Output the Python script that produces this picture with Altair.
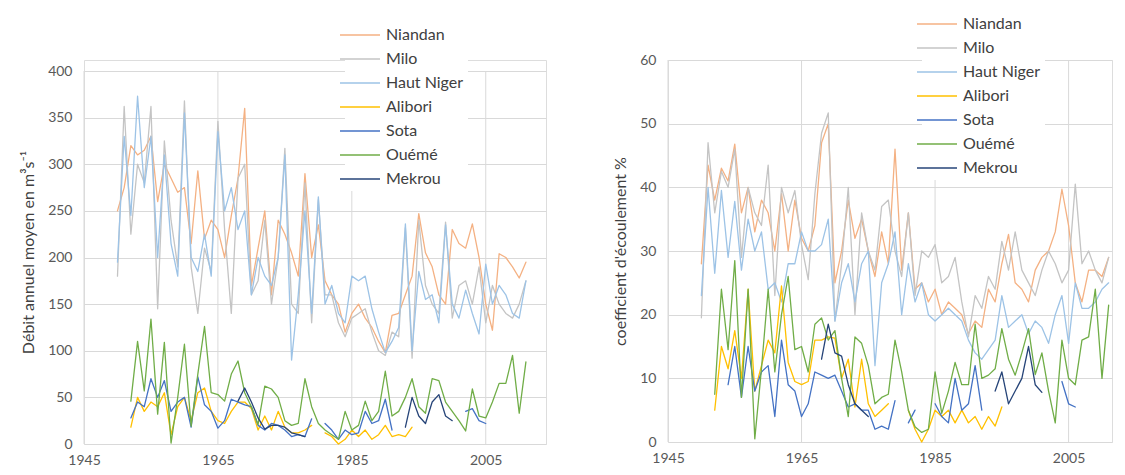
import altair as alt
import pandas as pd

RIVERS = ["Niandan", "Milo", "Haut Niger", "Alibori", "Sota", "Ouémé", "Mekrou"]
COLORS = ["#F4B183", "#C4C4C4", "#9DC3E6", "#FFC000", "#4472C4", "#70AD47", "#264478"]
WIDTHS = [1.3, 1.3, 1.3, 2.2, 2.2, 2.2, 2.2]

X_TICKS = [1945, 1965, 1985, 2005]
Q_TICKS = [0, 50, 100, 150, 200, 250, 300, 350, 400]
C_TICKS = [0, 10, 20, 30, 40, 50, 60]

Q_TITLE = "Débit annuel moyen en m³s⁻¹"
C_TITLE = "coefficient d'écoulement  %"

# ---------- Débit annuel moyen (m3/s) ----------
NIANDAN_Q_START = 1950
NIANDAN_Q = [250, 275, 320, 310, 315, 330, 260, 300, 285, 270,
             275, 215, 293, 220, 240, 230, 200, 245, 285, 360,
             170, 210, 250, 160, 240, 225, 205, 180, 290, 200,
             235, 175, 160, 150, 120, 140, 150, 135, 125, 110,
             98, 138, 140, 160, 180, 247, 205, 190, 160, 150,
             230, 215, 210, 236, 200, 150, 122, 204, 200, 190,
             178, 195]
MILO_Q_START = 1950
MILO_Q = [180, 362, 225, 300, 280, 362, 145, 325, 240, 190,
          368, 190, 140, 210, 185, 346, 230, 140, 285, 300,
          160, 175, 240, 150, 200, 317, 150, 140, 280, 130,
          262, 160, 160, 130, 115, 135, 140, 145, 120, 100,
          95, 120, 115, 232, 92, 240, 170, 150, 140, 238,
          135, 170, 175, 150, 190, 130, 170, 150, 140, 135,
          150, 175]
HN_Q_START = 1950
HN_Q = [195, 330, 245, 373, 275, 330, 200, 310, 215, 180,
        355, 200, 185, 225, 180, 335, 250, 275, 230, 250,
        160, 200, 180, 170, 200, 310, 90, 160, 250, 140,
        265, 150, 170, 140, 130, 180, 175, 180, 145, 120,
        98, 110, 125, 236, 100, 185, 155, 160, 130, 235,
        150, 135, 165, 140, 118, 193, 150, 170, 160, 140,
        135, 175]
ALIBORI_Q_STARTS = [1952, 1981]
ALIBORI_Q = [[18, 50, 35, 45, 40, 55, 10, 40, 50, 25,
              55, 60, 35, 25, 22, 35, 45, 45, 38, 15,
              30, 15, 35, 18, 12, 12, 15, 20],
             [12, 8, 0, 5, 15, 8, 15, 5, 10, 20, 8, 10, 8, 18]]
SOTA_Q_STARTS = [1952, 1981, 2002]
SOTA_Q = [[28, 45, 40, 70, 50, 68, 35, 45, 50, 18,
           72, 42, 35, 17, 25, 48, 45, 42, 40, 20,
           15, 22, 20, 15, 8, 10, 8, 27],
          [22, 15, 5, 15, 10, 12, 35, 22, 25, 48, 15],
          [35, 38, 25, 22]]
OUEME_Q_START = 1952
OUEME_Q = [46, 110, 57, 134, 32, 109, 1, 50, 107, 19,
           75, 126, 55, 53, 46, 75, 89, 55, 40, 21,
           62, 59, 50, 25, 20, 22, 70, 40, 22, 15,
           10, 5, 35, 15, 20, 46, 25, 35, 78, 30,
           35, 50, 70, 40, 33, 70, 68, 45, 35, 25,
           14, 59, 30, 28, 45, 65, 65, 95, 33, 88]
MEKROU_Q_STARTS = [1968, 1993]
MEKROU_Q = [[46, 60, 45, 28, 16, 20, 20, 18, 12, 10, 8],
            [18, 50, 30, 22, 45, 53, 30, 25]]

# ---------- Coefficient d'écoulement (%) ----------
NIANDAN_C_START = 1950
NIANDAN_C = [28, 43.5, 38, 43, 41, 46.8, 36, 40, 33, 38,
             36, 30, 39, 30, 38, 32, 30, 34, 47, 50,
             25, 30, 38, 32, 35, 30, 26, 33, 28, 46,
             27, 36, 24, 25, 22, 24, 20, 22, 21, 20,
             17, 19, 18, 24, 22, 28, 32.6, 25, 24, 22,
             27, 29, 30, 33, 39.7, 34, 25, 22, 27, 27,
             26, 29]
MILO_C_START = 1950
MILO_C = [19.5, 47, 36, 42.5, 40, 46, 29, 40, 36, 34,
          43.5, 23, 40, 36, 39.5, 31, 25.5, 39, 48.5, 51.7,
          19, 28, 40, 20, 36, 30, 27, 37, 38, 30,
          26, 36, 23, 30, 29, 31, 25, 26, 29, 22,
          16.5, 23, 21, 26, 24, 31.5, 27, 33, 27, 25,
          23, 27, 30, 28, 25, 27, 40.5, 28, 30, 27,
          25, 29]
HN_C_START = 1950
HN_C = [23, 40, 26.5, 39.5, 29, 37.8, 27, 35, 30, 33,
        24, 25, 22, 28, 28, 33, 30, 30, 31, 35,
        19, 25, 28, 22, 28, 30, 12, 25, 28, 33,
        20, 28, 22, 25, 20, 19, 20, 21, 20, 19,
        16, 14, 13, 14.5, 16, 23, 18, 19, 20, 17,
        19, 18, 15.5, 20, 23, 15.5, 25, 21, 21, 22,
        24, 25]
ALIBORI_C_STARTS = [1952, 1981]
ALIBORI_C = [[5, 15, 11.5, 17.5, 10, 24, 8, 12, 16, 14,
              24.5, 12.5, 9.5, 9, 9.5, 16, 16, 16.5, 16.3, 10,
              13, 5.5, 13, 6, 4, 5, 6],
             [5, 2, 0, 2, 5, 4, 5, 3, 5, 3, 4, 2, 4, 2.5, 5.5]]
SOTA_C_STARTS = [1954, 1981, 1985, 2004]
SOTA_C = [[9, 15, 7, 15, 8, 11, 12, 4, 16, 9,
           8, 4, 6, 11, 10.5, 10, 10.5, 8, 5.5, 6,
           5, 5, 2, 2.5, 2, 6.5],
          [3, 5],
          [6, 4, 3, 10, 5, 6, 12, 5],
          [9.5, 6, 5.5]]
OUEME_C_START = 1952
OUEME_C = [7.5, 24, 14.5, 28.5, 7, 24, 0.5, 11.5, 24, 11,
           20, 26, 14.5, 15, 11, 18.5, 19.5, 16, 17.5, 10,
           4, 16.5, 15.5, 12, 6, 7, 7.5, 16, 11, 5,
           2.4, 1.5, 2, 11, 4.5, 8, 12.5, 9, 9, 18.5,
           10, 10.5, 11.5, 17.8, 13, 10.5, 14, 17.8, 10.6, 14,
           8, 3, 16, 10, 9, 16, 16.5, 24, 10, 21.5]
MEKROU_C_STARTS = [1968, 1994]
MEKROU_C = [[13, 18.5, 14, 13.5, 9, 6, 5, 4],
            [8, 11, 6, 8, 10, 15, 9, 7.8]]


def build(series):
    rows = []
    for river in RIVERS:
        for k, (start, vals) in enumerate(series[river]):
            for i, v in enumerate(vals):
                rows.append({"river": river, "seg": f"{river}-{k}",
                             "year": start + i, "value": v})
    return pd.DataFrame(rows)


df_q = build({
    "Niandan": [(NIANDAN_Q_START, NIANDAN_Q)],
    "Milo": [(MILO_Q_START, MILO_Q)],
    "Haut Niger": [(HN_Q_START, HN_Q)],
    "Alibori": list(zip(ALIBORI_Q_STARTS, ALIBORI_Q)),
    "Sota": list(zip(SOTA_Q_STARTS, SOTA_Q)),
    "Ouémé": [(OUEME_Q_START, OUEME_Q)],
    "Mekrou": list(zip(MEKROU_Q_STARTS, MEKROU_Q)),
})
df_c = build({
    "Niandan": [(NIANDAN_C_START, NIANDAN_C)],
    "Milo": [(MILO_C_START, MILO_C)],
    "Haut Niger": [(HN_C_START, HN_C)],
    "Alibori": list(zip(ALIBORI_C_STARTS, ALIBORI_C)),
    "Sota": list(zip(SOTA_C_STARTS, SOTA_C)),
    "Ouémé": [(OUEME_C_START, OUEME_C)],
    "Mekrou": list(zip(MEKROU_C_STARTS, MEKROU_C)),
})
df_xgrid = pd.DataFrame({"year": X_TICKS})


def make_legend(x, y):
    return alt.Legend(orient="none", legendX=x, legendY=y, title=None,
                      symbolType="M-2,0H2", symbolSize=400, symbolStrokeWidth=2,
                      labelOffset=15, rowPadding=5, labelFontSize=16,
                      labelColor="#404040", labelFont="Lato",
                      fillColor="white", padding=4)


def panel(df, ytitle, ydomain, yticks, xmax, width, height, lx, ly):
    lg = make_legend(lx, ly)
    xscale = alt.Scale(domain=[1945, xmax], nice=False, zero=False)
    yscale = alt.Scale(domain=ydomain, nice=False)
    vgrid = alt.Chart(df_xgrid).mark_rule(color="#D9D9D9", strokeWidth=1).encode(
        x=alt.X("year:Q", scale=xscale),
        y=alt.datum(yticks[0]),
        y2=alt.datum(yticks[-1]),
    )
    lines = alt.Chart(df).mark_line(strokeJoin="round", strokeCap="round").encode(
        x=alt.X("year:Q", scale=xscale,
                axis=alt.Axis(values=X_TICKS, format="d", title=None, ticks=False,
                              domain=False, grid=False,
                              labelFlush=False, labelPadding=9, labelFontSize=14,
                              labelColor="#595959", labelFont="Lato")),
        y=alt.Y("value:Q", scale=yscale,
                axis=alt.Axis(values=yticks, title=ytitle, ticks=False, domain=False,
                              grid=True, gridColor="#D9D9D9", labelPadding=12,
                              labelFontSize=14, labelColor="#595959", labelFont="Lato",
                              titleFont="Lato", titleFontSize=16, titleFontWeight="normal",
                              titleColor="#404040", titlePadding=11)),
        color=alt.Color("river:N", scale=alt.Scale(domain=RIVERS, range=COLORS), legend=lg),
        strokeWidth=alt.StrokeWidth("river:N", scale=alt.Scale(domain=RIVERS, range=WIDTHS),
                                    legend=lg),
        detail="seg:N",
    )
    return alt.layer(vgrid, lines).properties(width=width, height=height)


# left plot area is taller (its top sits level with the right one); the 400 line stays at its place
left = panel(df_q, Q_TITLE, [0, 411.8], Q_TICKS, 2014, 462, 384, 261, -40)
right = panel(df_c, C_TITLE, [0, 60], C_TICKS, 2011.5, 444, 382, 254, -51)

chart = alt.hconcat(left, right, spacing=65).resolve_legend(
    color="independent", strokeWidth="independent"
).configure_view(stroke=None).configure(font="Lato").properties(
    padding={"left": 12, "top": 0, "right": 0, "bottom": 0},
    background="white",
)

chart.save("out.html", embed_options={"renderer": "svg", "actions": False})
